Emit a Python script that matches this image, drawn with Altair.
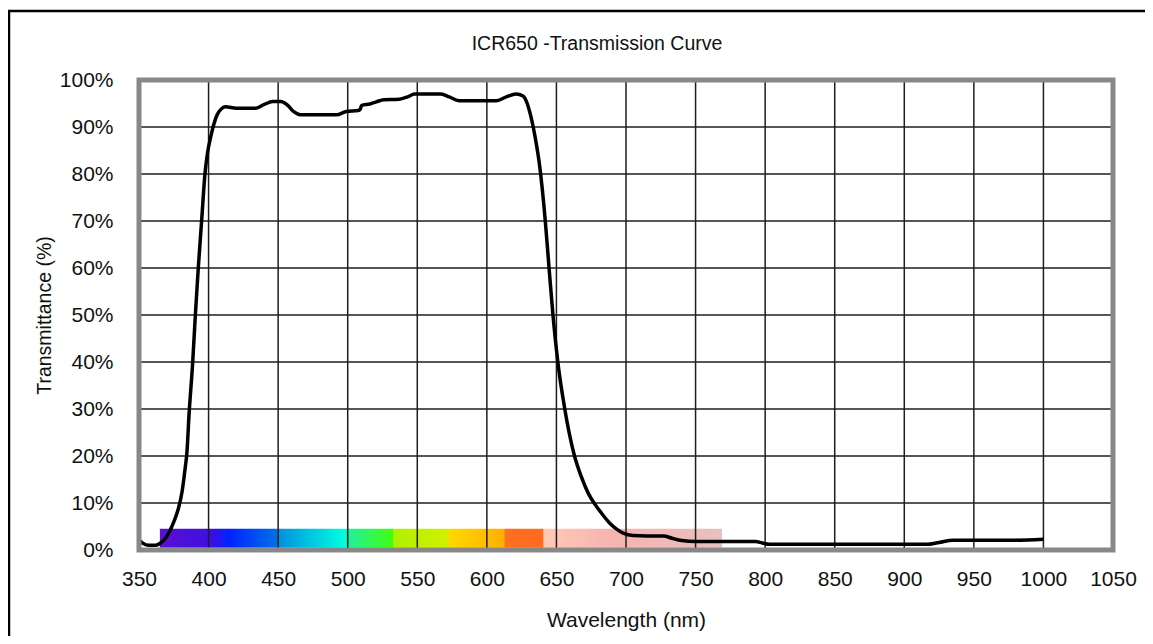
import altair as alt
import pandas as pd

# ---- data ----
wavelength = [350, 353, 357, 362, 366, 369, 372, 375, 378, 381, 383, 384.5, 386, 388.5,
              390.5, 392.6, 395, 397.4, 399, 402, 406, 409, 412, 420, 434, 440, 446, 452,
              456.5, 461, 466, 475, 492, 499, 507.5, 509, 510, 516, 521, 526, 537, 543,
              548, 567, 573, 580, 607, 614, 621, 626, 629, 631, 634.6, 638, 642, 644.7,
              647.5, 651, 656, 663, 668, 673, 678, 683, 688, 693, 698, 705, 715, 727, 733,
              740, 750, 793, 798, 803, 916, 925, 935, 980, 1000]
transmittance = [2.1, 1.4, 1.0, 1.0, 1.6, 2.5, 4.0, 6.0, 8.5, 12.5, 17, 21, 29, 39.5,
                 50, 60, 70, 80, 84, 88.5, 92.5, 93.8, 94.3, 94.0, 94.0, 94.8, 95.4, 95.4,
                 94.7, 93.3, 92.6, 92.6, 92.6, 93.3, 93.5, 93.8, 94.6, 94.9, 95.4, 95.8, 95.9, 96.4,
                 97.0, 97.0, 96.4, 95.6, 95.6, 96.4, 97.0, 96.6, 95.0, 93.0, 88.0, 81.6, 70, 60,
                 50, 40, 30, 20, 15.5, 12.0, 9.6, 7.6, 5.8, 4.5, 3.6, 3.1, 3.0, 3.0, 2.5,
                 2.0, 1.8, 1.8, 1.5, 1.2, 1.2, 1.6, 2.1, 2.1, 2.3]

x_ticks = [350, 400, 450, 500, 550, 600, 650, 700, 750, 800, 850, 900, 950, 1000, 1050]
y_ticks = [0, 10, 20, 30, 40, 50, 60, 70, 80, 90, 100]
x_grid = [400, 450, 500, 550, 600, 650, 700, 750, 800, 850, 900, 950, 1000]
y_grid = [10, 20, 30, 40, 50, 60, 70, 80, 90]

chart_title = "ICR650 -Transmission Curve"
x_title = "Wavelength (nm)"
y_title = "Transmittance (%)"

# visible spectrum band
band_start, band_end = 365, 769
band_low, band_high = 0.5, 4.5
stop_nm = [365, 399, 405, 412, 413, 449, 450, 498, 500, 532, 533.5, 572, 573, 612,
           613.5, 640, 641, 690, 769]
stop_colors = ["#5a10d0", "#4010e0", "#3010e8", "#1020f8", "#0020ff", "#0070e8",
               "#0090e0", "#00ffe0", "#20f0a0", "#40ff10", "#b0f000", "#d0f000",
               "#ffd800", "#ffb000", "#ff7020", "#ff6a20", "#ffcab4", "#f5b4b0",
               "#e8c0c0"]

FONT = "Liberation Sans"

curve_df = pd.DataFrame({"nm": wavelength, "t": transmittance})
band_df = pd.DataFrame({"nm": [band_start], "nm2": [band_end],
                        "t": [band_low], "t2": [band_high]})
xg_df = pd.DataFrame({"nm": x_grid})
yg_df = pd.DataFrame({"t": y_grid})
frame_df = pd.DataFrame({"nm": [x_ticks[0]], "nm2": [x_ticks[-1]],
                         "t": [y_ticks[0]], "t2": [y_ticks[-1]]})
title_df = pd.DataFrame({"label": [chart_title]})

xs = alt.Scale(domain=[x_ticks[0], x_ticks[-1]], nice=False, zero=False)
ys = alt.Scale(domain=[y_ticks[0], y_ticks[-1]], nice=False)

x_axis = alt.Axis(values=x_ticks, format="d", grid=False, ticks=False, domain=False,
                  labelFont=FONT, labelFontSize=21, labelColor="#111",
                  labelPadding=18, labelFlush=False,
                  titleFont=FONT, titleFontSize=21, titleFontWeight="normal",
                  titleColor="#111", titlePadding=20)
y_axis = alt.Axis(values=y_ticks, grid=False, ticks=False, domain=False,
                  labelExpr="datum.value + '%'",
                  labelFont=FONT, labelFontSize=21, labelColor="#111",
                  labelPadding=26, labelFlush=False,
                  titleFont=FONT, titleFontSize=19.5, titleFontWeight="normal",
                  titleColor="#111", titlePadding=5)

X = alt.X("nm:Q", scale=xs, title=x_title, axis=x_axis)
Y = alt.Y("t:Q", scale=ys, title=y_title, axis=y_axis)

stops = [alt.GradientStop(offset=(n - band_start) / (band_end - band_start), color=c)
         for n, c in zip(stop_nm, stop_colors)]
grad = alt.LinearGradient(gradient="linear", stops=stops, x1=0, x2=1, y1=0, y2=0)

outer = alt.Chart(title_df).mark_rect(
    filled=False, stroke="#000000", strokeWidth=2.5, clip=False
).encode(x=alt.value(-130), x2=alt.value(1100), y=alt.value(-69), y2=alt.value(700))

title = alt.Chart(title_df).mark_text(
    font=FONT, fontSize=19.5, color="#111", align="center", baseline="middle"
).encode(text="label:N", x=alt.value(458), y=alt.value(-36))

band = alt.Chart(band_df).mark_rect(color=grad).encode(x=X, x2="nm2:Q", y=Y, y2="t2:Q")

vgrid = alt.Chart(xg_df).mark_rule(color="#1e1e1e", strokeWidth=1.5).encode(x=X)
hgrid = alt.Chart(yg_df).mark_rule(color="#1e1e1e", strokeWidth=1.5).encode(y=Y)

curve = alt.Chart(curve_df).mark_line(
    color="#000000", strokeWidth=3.5, interpolate="monotone"
).encode(x=X, y=Y)

border = alt.Chart(frame_df).mark_rect(
    filled=False, stroke="#888888", strokeWidth=5
).encode(x=X, x2="nm2:Q", y=Y, y2="t2:Q")

chart = alt.layer(outer, title, band, vgrid, hgrid, curve, border).properties(
    width=974, height=470,
    autosize=alt.AutoSizeParams(type="none"),
    padding={"left": 131, "top": 72, "right": 32, "bottom": 86},
).configure_view(stroke=None).configure(background="white")

chart.save("out.html", embed_options={"renderer": "svg", "actions": False})
